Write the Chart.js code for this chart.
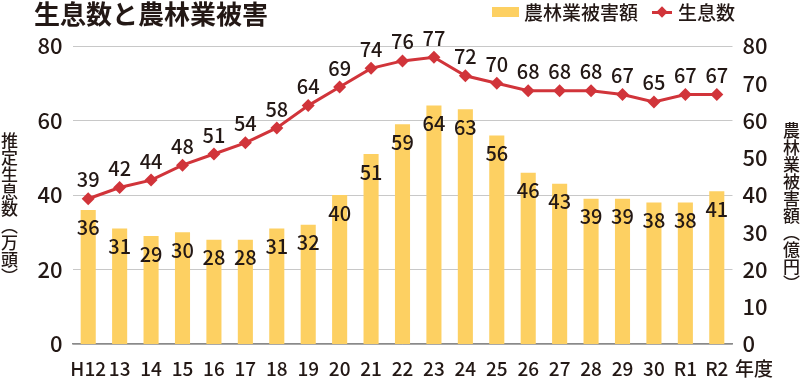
<!DOCTYPE html>
<html>
<head>
<meta charset="utf-8">
<script src="https://cdn.jsdelivr.net/npm/chart.js@4.4.1/dist/chart.umd.min.js"></script>
<style>
  body { margin: 0; background: #fff; font-family: "Noto Sans CJK JP", sans-serif; color: #231815; }
  #wrap { position: relative; width: 800px; height: 379px; overflow: hidden; }
  #chart { position: absolute; left: 0; top: 0; }
  .txt { position: absolute; white-space: nowrap; font-weight: 500; }
  #title { left: 34px; top: 0px; font-size: 26px; line-height: 26px; font-weight: bold; }
  .vert { writing-mode: vertical-rl; font-size: 17px; line-height: 18px; }
  #legBox { position: absolute; left: 492px; top: 7px; width: 27px; height: 10px; background: #fdd062; }
  #legLine { position: absolute; left: 652px; top: 11px; width: 20px; height: 3px; background: #d1343a; }
  #legDot { position: absolute; left: 658px; top: 8px; width: 8px; height: 8px; background: #d1343a; transform: rotate(45deg); }
</style>
</head>
<body>
<div id="wrap">
  <canvas id="chart" width="800" height="379"></canvas>
  <div class="txt" id="title">生息数と農林業被害</div>
  <div id="legBox"></div>
  <div class="txt" style="left:524px; top:0px; font-size:19px; line-height:24px;">農林業被害額</div>
  <div id="legLine"></div>
  <div id="legDot"></div>
  <div class="txt" style="left:678px; top:0px; font-size:19px; line-height:24px;">生息数</div>
  <div class="txt vert" style="left:0px; top:132px;">推定生息数（万頭）</div>
  <div class="txt vert" style="left:782px; top:122px;">農林業被害額（億円）</div>
  <div class="txt" style="left:735px; top:356px; font-size:19px; line-height:24px;">年度</div>
</div>
<script>
// データ
var years = ["H12", "13", "14", "15", "16", "17", "18", "19", "20", "21", "22",
  "23", "24", "25", "26", "27", "28", "29", "30", "R1", "R2"];
// 農林業被害額（億円）
var damage = [36, 31, 29, 30, 28, 28, 31, 32, 40, 51, 59, 64, 63, 56, 46, 43, 39, 39, 38, 38, 41];
// 推定生息数（万頭）
var population = [39, 42, 44, 48, 51, 54, 58, 64, 69, 74, 76, 77, 72, 70, 68, 68, 68, 67, 65, 67, 67];
var leftMax = 80, leftStep = 20;
var rightMax = 80, rightStep = 10;

var textColor = "#231815";
var barColor = "#fdd062";
var lineColor = "#d1343a";

// 値ラベルを描くプラグイン
var valueLabels = {
  id: "valueLabels",
  afterDatasetsDraw: function(chart) {
    var ctx = chart.ctx;
    ctx.save();
    ctx.fillStyle = textColor;
    ctx.font = "500 20px 'Noto Sans CJK JP'";
    ctx.textAlign = "center";
    ctx.textBaseline = "middle";

    chart.getDatasetMeta(0).data.forEach(function(el, i) {
      ctx.fillText(String(damage[i]), el.x, el.y + 18);
    });
    chart.getDatasetMeta(1).data.forEach(function(el, i) {
      ctx.fillText(String(population[i]), el.x, el.y - 19);
    });
    ctx.restore();
  }
};

var ctx = document.getElementById("chart").getContext("2d");

new Chart(ctx, {
  data: {
    labels: years,
    datasets: [{
      type: "bar",
      label: "農林業被害額",
      data: damage,
      yAxisID: "y2",
      backgroundColor: barColor,
      barPercentage: 0.48,
      categoryPercentage: 1.0,
      order: 2
    }, {
      type: "line",
      label: "生息数",
      data: population,
      yAxisID: "y",
      borderColor: lineColor,
      borderWidth: 3,
      pointStyle: "rectRot",
      pointRadius: 6.5,
      pointBackgroundColor: lineColor,
      pointBorderWidth: 0,
      tension: 0,
      clip: false,
      order: 1
    }]
  },
  options: {
    responsive: false,
    devicePixelRatio: 1,
    animation: false,
    events: [],
    layout: { padding: { top: 46, left: 0, right: 0, bottom: 0 } },
    plugins: {
      legend: { display: false },
      tooltip: { enabled: false }
    },
    scales: {
      x: {
        grid: { display: false, drawTicks: false },
        border: { display: true, color: "#8a8a8a", width: 1.5 },
        ticks: {
          color: textColor,
          font: { family: "Noto Sans CJK JP", size: 19, weight: "500" },
          padding: 13,
          maxRotation: 0,
          autoSkip: false
        },
        afterFit: function(scale) { scale.height = 35; }
      },
      y: {
        position: "left",
        min: 0,
        max: leftMax,
        grid: { color: "#c8c8c8", lineWidth: 1, drawTicks: false },
        border: { display: false },
        ticks: {
          stepSize: leftStep,
          color: textColor,
          font: { family: "Noto Sans CJK JP", size: 22, weight: "500" },
          padding: 10
        },
        afterFit: function(scale) { scale.width = 72.5; }
      },
      y2: {
        position: "right",
        min: 0,
        max: rightMax,
        grid: { display: false, drawTicks: false },
        border: { display: false },
        ticks: {
          stepSize: rightStep,
          color: textColor,
          font: { family: "Noto Sans CJK JP", size: 22, weight: "500" },
          padding: 10
        },
        afterFit: function(scale) { scale.width = 67.5; }
      }
    }
  },
  plugins: [valueLabels]
});
</script>
</body>
</html>
